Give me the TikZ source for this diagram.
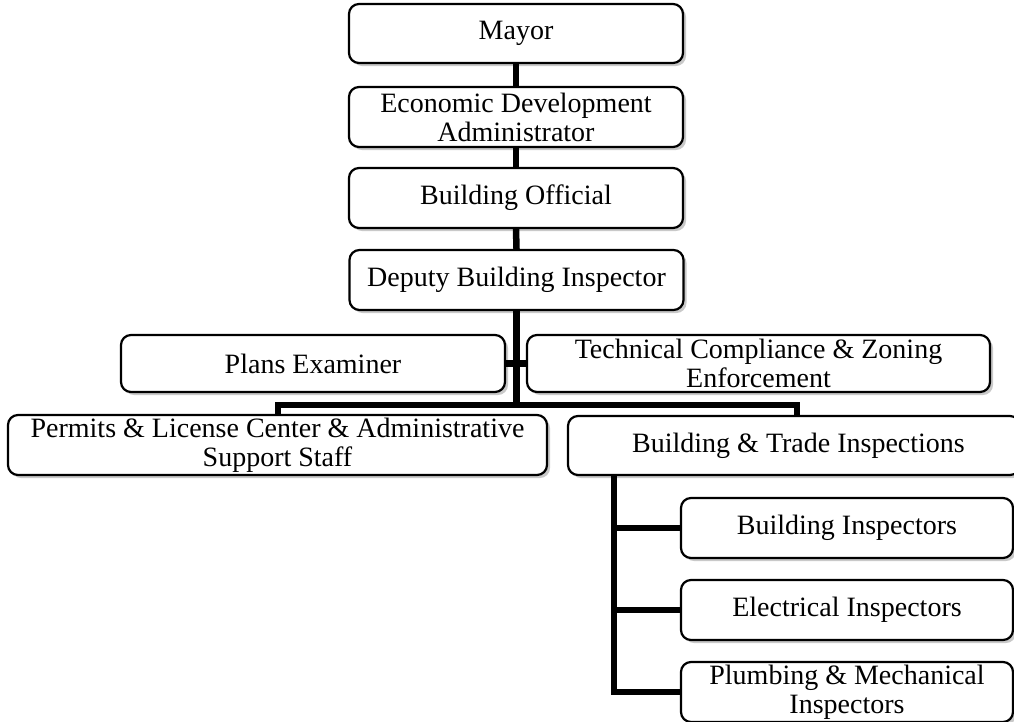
\documentclass[tikz,border=0pt]{standalone}
\usepackage{fontspec}
\setmainfont{Liberation Serif}
\usetikzlibrary{shadows}
\begin{document}
\begin{tikzpicture}[x=1pt,y=-1pt,
  box/.style={draw=black, line width=2.2pt, rounded corners=10pt, fill=white,
    align=center, inner sep=0pt, font=\fontsize{28}{29}\selectfont,
    drop shadow={shadow xshift=3pt, shadow yshift=-3pt, opacity=0.3, fill=black!70}},
  conn/.style={line width=6.5pt, line join=miter, line cap=butt}]
\useasboundingbox (0,0) rectangle (1014,721);
% boxes: centre, width, height
\node[box, minimum width=334pt, minimum height=59pt] (mayor) at (516,33.5) {Mayor};
\node[box, minimum width=334pt, minimum height=60pt] (econ) at (516,117) {Economic Development\\Administrator};
\node[box, minimum width=334pt, minimum height=60pt] (bo) at (516,198) {Building Official};
\node[box, minimum width=334pt, minimum height=60pt] (dep) at (516.5,280) {Deputy Building Inspector};
\node[box, minimum width=384pt, minimum height=57pt] (plans) at (313,363.5) {Plans Examiner};
\node[box, minimum width=463pt, minimum height=57pt] (tech) at (758.5,363.5) {Technical Compliance \& Zoning\\Enforcement};
\node[box, minimum width=539pt, minimum height=60pt] (perm) at (277.5,445) {Permits \& License Center \& Administrative\\Support Staff};
\node[box, minimum width=452pt, minimum height=59pt] (bt) at (794,445.5) {\hspace*{9pt}Building \& Trade Inspections};
\node[box, minimum width=332pt, minimum height=60pt] (bi) at (847,528) {Building Inspectors};
\node[box, minimum width=332pt, minimum height=60pt] (ei) at (847,610) {Electrical Inspectors};
\node[box, minimum width=332pt, minimum height=60pt] (pm) at (847,692) {Plumbing \& Mechanical\\Inspectors};
% connectors
\draw[conn] (mayor.south) -- (econ.north);
\draw[conn] (econ.south) -- (bo.north);
\draw[conn] (bo.south) -- (dep.north);
\coordinate (barL) at (278,405);
\coordinate (barR) at (797,405);
\coordinate (bx) at (614,475);
\draw[conn] (dep.south) -- (dep.south |- barL);
\draw[conn] (plans.east) -- (tech.west);
\draw[conn] (barL |- perm.north) -- (barL) -- (barR) -- (barR |- bt.north);
\draw[conn] (bx |- bt.south) |- (pm.west);
\draw[conn] (bx |- bi.west) -- (bi.west);
\draw[conn] (bx |- ei.west) -- (ei.west);
\end{tikzpicture}
\end{document}
